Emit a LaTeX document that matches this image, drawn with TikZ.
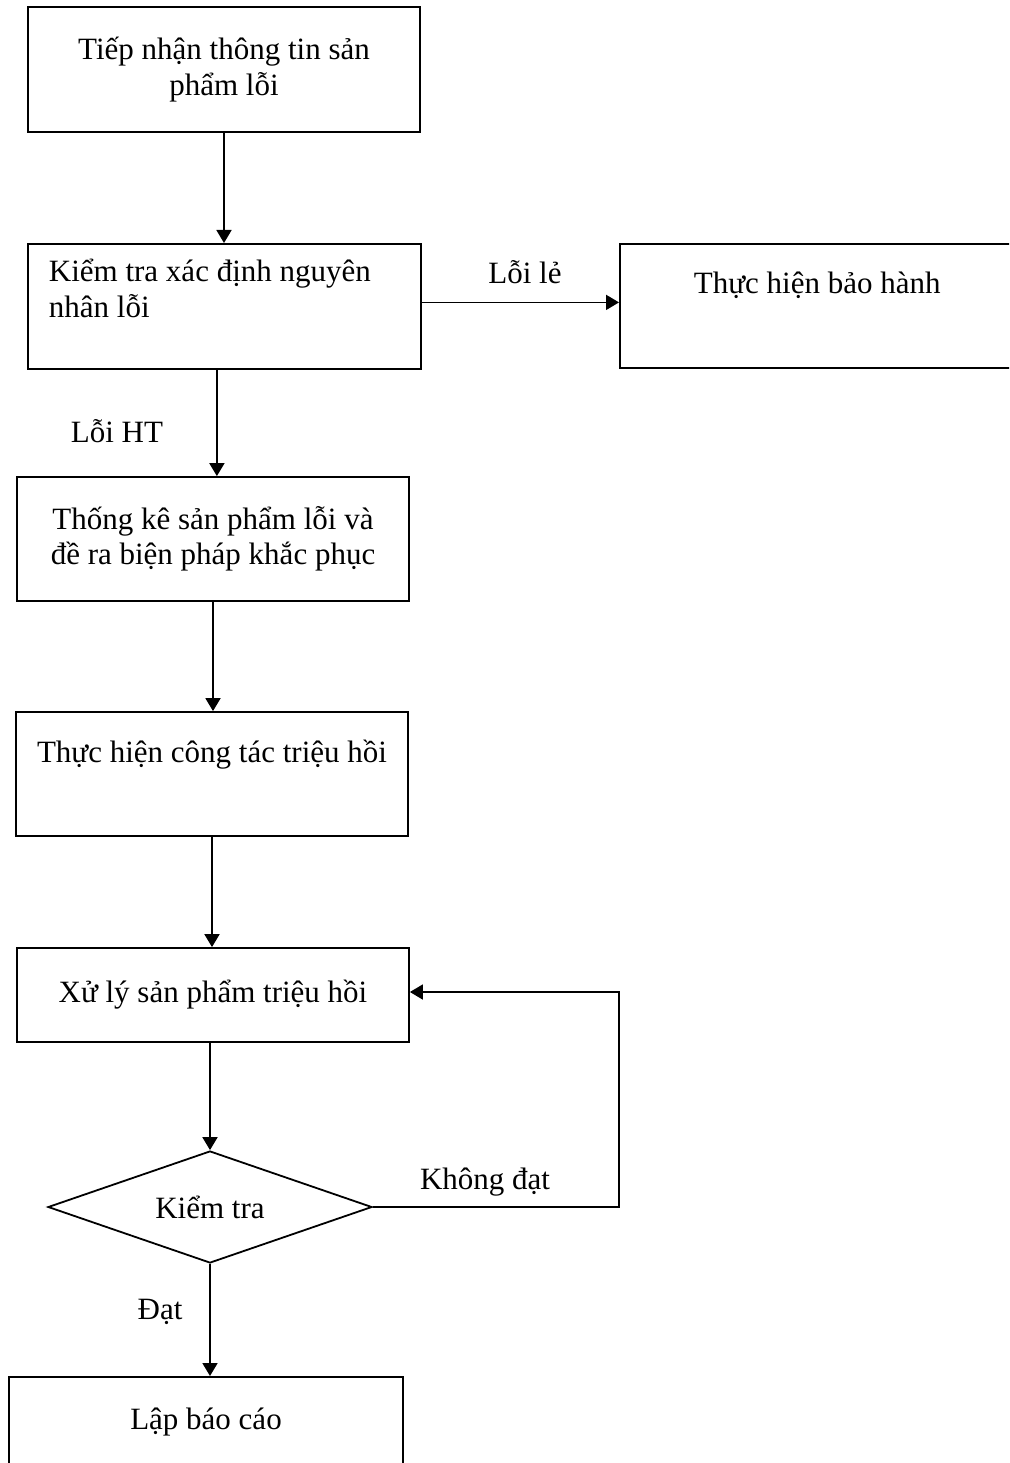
\documentclass[tikz,border=0pt]{standalone}
\usepackage{fontspec}
\setmainfont{Liberation Serif}
\usetikzlibrary{arrows.meta,shapes.geometric,calc}
\begin{document}
\begin{tikzpicture}[x=1pt,y=-1pt,
  every node/.style={font=\fontsize{31}{35.5}\selectfont},
  box/.style={draw, line width=1.8pt, rectangle, inner sep=0pt},
  arr/.style={line width=1.8pt, -{Triangle[length=13pt,width=15pt]}},
  lbl/.style={anchor=base, inner sep=0pt}]
\useasboundingbox (0,0) rectangle (1009,1463);
\clip (0,0) rectangle (1009,1463);
\node[box, minimum width=392, minimum height=125, align=center] (n1) at (224,69.5) {Tiếp nhận thông tin sản\\phẩm lỗi};
\node[box, anchor=north west, inner xsep=21pt, text width=351pt, minimum height=125, align=flush left] (n2) at (27,243) {Kiểm tra xác định nguyên\\nhân lỗi\\[-10pt]\strut};
\node[box, anchor=north west, inner xsep=74pt, text width=300pt, minimum height=124, align=flush left] (n3) at (619,243) {Thực hiện bảo hành\\\strut};
\node[box, minimum width=392, minimum height=124, align=center] (n4) at (213,539) {Thống kê sản phẩm lỗi và\\đề ra biện pháp khắc phục};
\node[box, minimum width=392, minimum height=124, align=center] (n5) at (212,774) {Thực hiện công tác triệu hồi\\\strut};
\node[box, minimum width=392, minimum height=94, align=center] (n6) at (213,995) {Xử lý sản phẩm triệu hồi};
\node[draw, line width=1.8pt, diamond, aspect=2.9, inner sep=0pt, minimum width=324, minimum height=112] (d) at (210,1207) {Kiểm tra};
\node[box, anchor=north, minimum width=394, minimum height=130, align=center] (n7) at (206,1376) {Lập báo cáo\\\strut};

\draw[arr] (n1.south) -- (n1.south |- n2.north);
\coordinate (c24) at ([xshift=-7.5pt]n2.south);
\draw[arr] (c24) -- (c24 |- n4.north);
\coordinate (c23) at ([yshift=4pt]n2.east);
\draw[arr] (c23) -- (c23 -| n3.west);
\draw[arr] (n4.south) -- (n4.south |- n5.north);
\draw[arr] (n5.south) -- (n5.south |- n6.north);
\draw[arr] (d.north |- n6.south) -- (d.north);
\draw[arr] (d.south) -- (d.south |- n7.north);
\coordinate (loop) at (619,1207);
\coordinate (c6) at ([yshift=3pt]n6.east);
\draw[arr] (d.east) -- (loop) |- (c6);

\node[lbl] (l1) at (525,283) {Lỗi lẻ};
\node[lbl] (l2) at (117,442) {Lỗi HT};
\node[lbl] (l3) at (485,1189) {Không đạt};
\node[lbl] (l4) at (160,1319) {Đạt};
\end{tikzpicture}
\end{document}
